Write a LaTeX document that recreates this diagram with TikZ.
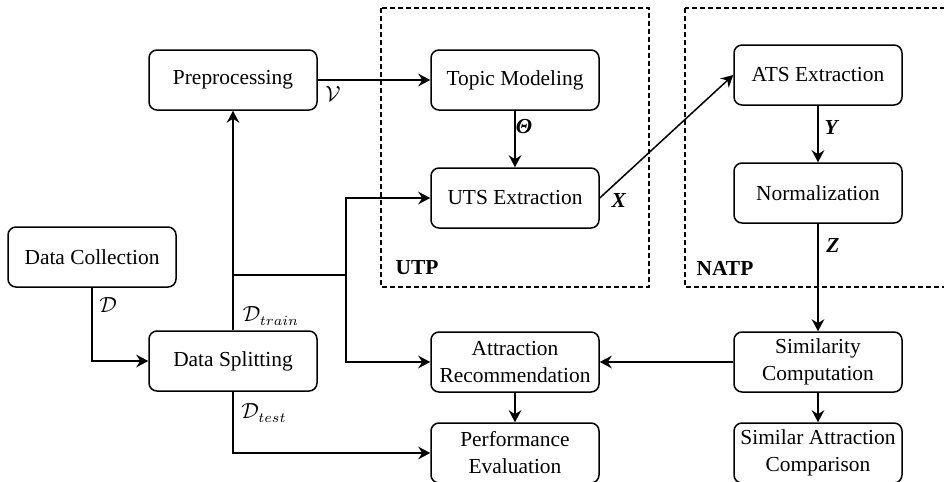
\documentclass[tikz,border=0pt]{standalone}
\usepackage{fontspec}
\setmainfont{Liberation Serif}
\usetikzlibrary{arrows.meta}
\begin{document}
\begin{tikzpicture}[x=0.5pt,y=-0.5pt,
  box/.style={draw, rounded corners=4pt, line width=0.75pt, minimum width=84pt, minimum height=30pt,
    align=center, font=\fontsize{10.7}{13.5}\selectfont, inner sep=1pt},
  conn/.style={line width=0.75pt, -{Stealth[length=6pt,width=6.3pt,inset=2pt]}},
  plain/.style={line width=0.75pt},
  lab/.style={font=\fontsize{10.7}{12}\selectfont, inner sep=0pt},
  grp/.style={draw, dash pattern=on 2.5pt off 1.5pt, line width=0.6pt},
  grplab/.style={font=\fontsize{10.7}{12}\selectfont\bfseries, inner sep=0pt}]
\useasboundingbox (0,0) rectangle (944,482);
% group boxes
\draw[grp] (381,8) rectangle (649,287);
\draw[grp] (685,8) rectangle (952,287);
\node[grplab] (utp) at (417,268) {UTP};
\node[grplab] (natp) at (725,268) {NATP};
% nodes
\node[box] (dc)  at (92,257)  {Data Collection};
\node[box] (ds)  at (233,361) {Data Splitting};
\node[box] (pre) at (233,80)  {Preprocessing};
\node[box] (tm)  at (515,80)  {Topic Modeling};
\node[box] (uts) at (515,198) {UTS Extraction};
\node[box] (ats) at (818,75)  {ATS Extraction};
\node[box] (nrm) at (818,193) {Normalization};
\node[box] (ar)  at (515,362) {Attraction\\Recommendation};
\node[box] (sc)  at (818,362) {Similarity\\Computation};
\node[box] (pe)  at (515,453) {Performance\\Evaluation};
\node[box] (sac) at (818,453) {Similar Attraction\\Comparison};
% connectors
\coordinate (j1) at (233,275);
\coordinate (j2) at (346,275);
\draw[conn] (dc.south) |- (ds.west);
\draw[conn] (ds.north) -- (pre.south);
\draw[plain] (j1) -- (j2);
\draw[conn] (j2) |- (uts.west);
\draw[conn] (j2) |- (ar.west);
\draw[conn] (ds.south) |- (pe.west);
\draw[conn] (pre.east) -- (tm.west);
\draw[conn] (tm) -- (uts);
\draw[conn] (uts.east) -- (ats.west);
\draw[conn] (ats) -- (nrm);
\draw[conn] (nrm) -- (sc);
\draw[conn] (sc) -- (ar);
\draw[conn] (ar) -- (pe);
\draw[conn] (sc) -- (sac);
% labels
\node[lab] (lv) at (333,94) {$\mathcal{V}$};
\node[lab] (ld) at (108,305) {$\mathcal{D}$};
\node[lab] (ltr) at (271,316) {$\mathcal{D}_{train}$};
\node[lab] (lte) at (264,413) {$\mathcal{D}_{test}$};
\node[lab] (lth) at (524,127) {\textbf{\textit{Θ}}};
\node[lab] (lx) at (619,200) {\textbf{\textit{X}}};
\node[lab] (ly) at (832,127) {\textbf{\textit{Y}}};
\node[lab] (lz) at (833,245) {\textbf{\textit{Z}}};
\end{tikzpicture}
\end{document}
